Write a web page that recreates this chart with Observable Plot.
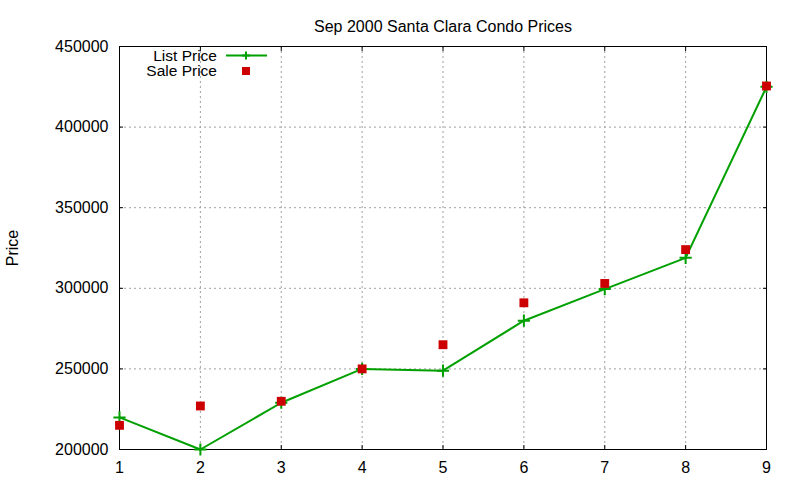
<!DOCTYPE html>
<html>
<head>
<meta charset="utf-8">
<script src="https://cdn.jsdelivr.net/npm/d3@7"></script>
<script src="https://cdn.jsdelivr.net/npm/@observablehq/plot@0.6"></script>
<style>
  html, body { margin: 0; padding: 0; background: #fff; }
  #wrap { position: relative; width: 800px; height: 480px; font-family: "Liberation Sans", Arial, sans-serif; }
  #legend { position: absolute; left: 0; top: 0; }
</style>
</head>
<body>
<div id="wrap"></div>
<script>
const title = "Sep 2000 Santa Clara Condo Prices";
const yLabel = "Price";
const units = [1, 2, 3, 4, 5, 6, 7, 8, 9];
const listPrice = [219900, 200000, 229000, 250000, 248900, 279900, 299500, 318900, 425000];
const salePrice = [215000, 227000, 229900, 250000, 265000, 291000, 303000, 324000, 425500];
const yTicks = [200000, 250000, 300000, 350000, 400000, 450000];
const seriesNames = ["List Price", "Sale Price"];

const green = "#00a000";
const red = "#cc0000";

const listData = units.map((u, i) => ({x: u, y: listPrice[i]}));
const saleData = units.map((u, i) => ({x: u, y: salePrice[i]}));

const grid = {stroke: "#a0a0a0", strokeOpacity: 1, strokeDasharray: "2,3", strokeWidth: 1};

const chart = Plot.plot({
  width: 800,
  height: 480,
  marginLeft: 119,
  marginRight: 34,
  marginTop: 46,
  marginBottom: 31,
  style: {fontFamily: "'Liberation Sans', Arial, sans-serif", fontSize: "16px", background: "#fff", color: "#000"},
  x: {domain: [1, 9], ticks: units},
  y: {domain: [200000, 450000], ticks: yTicks},
  marks: [
    Plot.gridX(units.slice(1, -1), grid),
    Plot.gridY(yTicks.slice(1, -1), grid),
    Plot.axisX(units, {tickSize: -4, tickPadding: 16, tickFormat: d => String(d), label: null, fontSize: 16, stroke: "#000"}),
    Plot.axisX(units, {anchor: "top", tickSize: -4, tickFormat: null, text: null, label: null, stroke: "#000"}),
    Plot.axisY(yTicks, {tickSize: -4, tickPadding: 15, tickFormat: d => String(d), label: yLabel, labelAnchor: "center", labelArrow: "none", labelOffset: 113, fontSize: 16, stroke: "#000"}),
    Plot.axisY(yTicks, {anchor: "right", tickSize: -4, text: null, label: null, stroke: "#000"}),
    Plot.frame({stroke: "#000", strokeWidth: 1}),
    Plot.line(listData, {x: "x", y: "y", stroke: green, strokeWidth: 2}),
    Plot.dot(listData, {x: "x", y: "y", symbol: "plus", stroke: green, strokeWidth: 2, r: 4}),
    Plot.dot(saleData, {x: "x", y: "y", symbol: "square", fill: red, stroke: "none", r: 5}),
    Plot.text([title], {frameAnchor: "top", text: d => d, dy: -26, fontSize: 16, fill: "#000"})
  ]
});

const wrap = document.getElementById("wrap");
wrap.appendChild(chart);

// Legend overlay (gnuplot style key, top-left inside plot)
const ns = "http://www.w3.org/2000/svg";
const leg = document.createElementNS(ns, "svg");
leg.setAttribute("id", "legend");
leg.setAttribute("width", 800);
leg.setAttribute("height", 100);
const rows = [
  {name: seriesNames[0], y: 55.5, kind: "line"},
  {name: seriesNames[1], y: 71, kind: "square"}
];
for (const r of rows) {
  const t = document.createElementNS(ns, "text");
  t.setAttribute("x", 217);
  t.setAttribute("y", r.y);
  t.setAttribute("dy", "0.35em");
  t.setAttribute("text-anchor", "end");
  t.setAttribute("font-size", "15.5");
  t.setAttribute("font-family", "'Liberation Sans', Arial, sans-serif");
  t.textContent = r.name;
  leg.appendChild(t);
  if (r.kind === "line") {
    const l = document.createElementNS(ns, "line");
    l.setAttribute("x1", 226); l.setAttribute("x2", 267);
    l.setAttribute("y1", r.y); l.setAttribute("y2", r.y);
    l.setAttribute("stroke", green); l.setAttribute("stroke-width", 2);
    leg.appendChild(l);
    const p = document.createElementNS(ns, "path");
    p.setAttribute("d", `M242,${r.y}h8M246,${r.y - 4}v8`);
    p.setAttribute("stroke", green); p.setAttribute("stroke-width", 2);
    leg.appendChild(p);
  } else {
    const s = document.createElementNS(ns, "rect");
    s.setAttribute("x", 242); s.setAttribute("y", r.y - 4);
    s.setAttribute("width", 8); s.setAttribute("height", 8);
    s.setAttribute("fill", red);
    leg.appendChild(s);
  }
}
wrap.appendChild(leg);
</script>
</body>
</html>
